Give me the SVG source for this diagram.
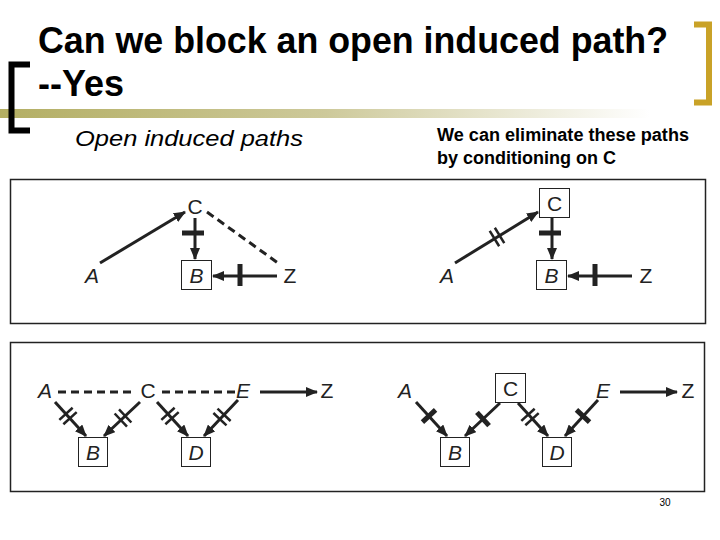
<svg xmlns="http://www.w3.org/2000/svg" width="720" height="540" viewBox="0 0 720 540">
<style>
.t{font-family:"Liberation Sans",Arial,sans-serif;fill:#000}
.lbl{font-family:"Liberation Sans",Arial,sans-serif;font-size:21px;fill:#222;text-anchor:middle}
.it{font-style:italic}
.e{stroke:#222;stroke-width:3;fill:none}
.d{stroke:#222;stroke-width:3;fill:none;stroke-dasharray:8 5}
.box{fill:#fff;stroke:#222;stroke-width:1}
.frame{fill:none;stroke:#222;stroke-width:1.5}
</style>
<defs>
<marker id="ah" markerUnits="userSpaceOnUse" markerWidth="12" markerHeight="10" refX="11" refY="5" orient="auto">
<path d="M0,0 L12,5 L0,10 Z" fill="#222"/>
</marker>
<g id="ds"><line x1="-3" y1="-9" x2="-3" y2="9" stroke="#222" stroke-width="2.5"/><line x1="3" y1="-9" x2="3" y2="9" stroke="#222" stroke-width="2.5"/></g>
<rect id="bar" x="-2.5" y="-11" width="5" height="22" fill="#222"/>
<rect id="sbar" x="-2.5" y="-9" width="5" height="18" fill="#222"/>
<linearGradient id="g" x1="0" x2="1" y1="0" y2="0">
<stop offset="0" stop-color="#b3ae63"/>
<stop offset="0.5" stop-color="#cdc99a"/>
<stop offset="1" stop-color="#ffffff"/>
</linearGradient>
</defs>
<rect width="720" height="540" fill="#fff"/>
<g id="header">
<rect x="0" y="109" width="650" height="9" fill="url(#g)"/>
<path d="M30,64.5 H11.5 V130.5 H30" fill="none" stroke="#000" stroke-width="6"/>
<path d="M694,24.5 H709 V102.5 H694" fill="none" stroke="#c9a227" stroke-width="6"/>
<text class="t" x="38" y="53" font-size="37" font-weight="bold" textLength="630" lengthAdjust="spacingAndGlyphs">Can we block an open induced path?</text>
<text class="t" x="38" y="96" font-size="37" font-weight="bold" textLength="86" lengthAdjust="spacingAndGlyphs">--Yes</text>
<text class="t" x="75" y="146" font-size="22" font-style="italic" textLength="228" lengthAdjust="spacingAndGlyphs">Open induced paths</text>
<text class="t" x="437" y="141" font-size="18" font-weight="bold" textLength="252" lengthAdjust="spacingAndGlyphs">We can eliminate these paths</text>
<text class="t" x="437" y="164" font-size="18" font-weight="bold" textLength="179" lengthAdjust="spacingAndGlyphs">by conditioning on C</text>
<text class="t" x="665" y="506" font-size="10" text-anchor="middle">30</text>
</g>
<rect class="frame" x="10.5" y="179.5" width="695" height="144"/>
<rect class="frame" x="10.5" y="342.5" width="694" height="149"/>
<g id="connectors">
<line class="e" x1="100" y1="263" x2="185" y2="212" marker-end="url(#ah)"/>
<line class="e" x1="195" y1="218" x2="195" y2="259" marker-end="url(#ah)"/>
<line class="e" x1="277" y1="276" x2="213" y2="276" marker-end="url(#ah)"/>
<line class="d" x1="207" y1="212" x2="278" y2="263"/>
<use href="#bar" transform="translate(193,233) rotate(90)"/>
<use href="#bar" transform="translate(240,275)"/>
<line class="e" x1="455" y1="263" x2="538" y2="212" marker-end="url(#ah)"/>
<line class="e" x1="552" y1="218" x2="552" y2="259" marker-end="url(#ah)"/>
<line class="e" x1="632" y1="276" x2="568" y2="276" marker-end="url(#ah)"/>
<use href="#ds" transform="translate(497,237) rotate(-31.6)"/>
<use href="#bar" transform="translate(550,233) rotate(90)"/>
<use href="#bar" transform="translate(595,275)"/>
<line class="d" x1="58" y1="392" x2="135" y2="392"/>
<line class="d" x1="162" y1="392" x2="238" y2="392"/>
<line class="e" x1="260" y1="392" x2="317" y2="392" marker-end="url(#ah)"/>
<line class="e" x1="55" y1="402" x2="86" y2="436" marker-end="url(#ah)"/>
<line class="e" x1="140" y1="402" x2="104" y2="436" marker-end="url(#ah)"/>
<line class="e" x1="157" y1="402" x2="188" y2="436" marker-end="url(#ah)"/>
<line class="e" x1="238" y1="400" x2="204" y2="436" marker-end="url(#ah)"/>
<use href="#ds" transform="translate(68,416) rotate(47.7)"/>
<use href="#ds" transform="translate(123,418) rotate(136.7)"/>
<use href="#ds" transform="translate(170,416) rotate(47.7)"/>
<use href="#ds" transform="translate(222,417) rotate(133.3)"/>
<line class="e" x1="620" y1="392" x2="677" y2="392" marker-end="url(#ah)"/>
<line class="e" x1="416" y1="402" x2="447" y2="436" marker-end="url(#ah)"/>
<line class="e" x1="500" y1="403" x2="465" y2="436" marker-end="url(#ah)"/>
<line class="e" x1="518" y1="403" x2="548" y2="436" marker-end="url(#ah)"/>
<line class="e" x1="598" y1="400" x2="565" y2="436" marker-end="url(#ah)"/>
<use href="#sbar" transform="translate(429,416) rotate(46.8)"/>
<use href="#sbar" transform="translate(483,419) rotate(137.6)"/>
<use href="#ds" transform="translate(530,417) rotate(47.8)"/>
<use href="#sbar" transform="translate(583,416) rotate(133.3)"/>
</g>
<g id="tl-C"><text class="lbl" x="195" y="214">C</text></g>
<g id="tl-A"><text class="lbl it" x="92" y="283">A</text></g>
<g id="tl-B"><rect class="box" x="181.5" y="260.5" width="30" height="29"/><text class="lbl it" x="196.5" y="283">B</text></g>
<g id="tl-Z"><text class="lbl" x="290" y="283">Z</text></g>
<g id="tr-C"><rect class="box" x="539.5" y="188.5" width="30" height="29"/><text class="lbl" x="554.5" y="211">C</text></g>
<g id="tr-A"><text class="lbl it" x="447" y="283">A</text></g>
<g id="tr-B"><rect class="box" x="536.5" y="260.5" width="30" height="29"/><text class="lbl it" x="551.5" y="283">B</text></g>
<g id="tr-Z"><text class="lbl" x="646" y="283">Z</text></g>
<g id="bl-A"><text class="lbl it" x="45" y="398">A</text></g>
<g id="bl-C"><text class="lbl" x="148" y="398">C</text></g>
<g id="bl-E"><text class="lbl it" x="243" y="398">E</text></g>
<g id="bl-Z"><text class="lbl" x="327" y="398">Z</text></g>
<g id="bl-B"><rect class="box" x="78.5" y="437.5" width="29" height="29"/><text class="lbl it" x="93" y="460">B</text></g>
<g id="bl-D"><rect class="box" x="181.5" y="437.5" width="29" height="29"/><text class="lbl it" x="196" y="460">D</text></g>
<g id="br-A"><text class="lbl it" x="405" y="398">A</text></g>
<g id="br-C"><rect class="box" x="495.5" y="373.5" width="30" height="29"/><text class="lbl" x="510.5" y="396">C</text></g>
<g id="br-E"><text class="lbl it" x="603" y="398">E</text></g>
<g id="br-Z"><text class="lbl" x="688" y="398">Z</text></g>
<g id="br-B"><rect class="box" x="440.5" y="437.5" width="29" height="29"/><text class="lbl it" x="455" y="460">B</text></g>
<g id="br-D"><rect class="box" x="542.5" y="437.5" width="29" height="29"/><text class="lbl it" x="557" y="460">D</text></g>
</svg>
